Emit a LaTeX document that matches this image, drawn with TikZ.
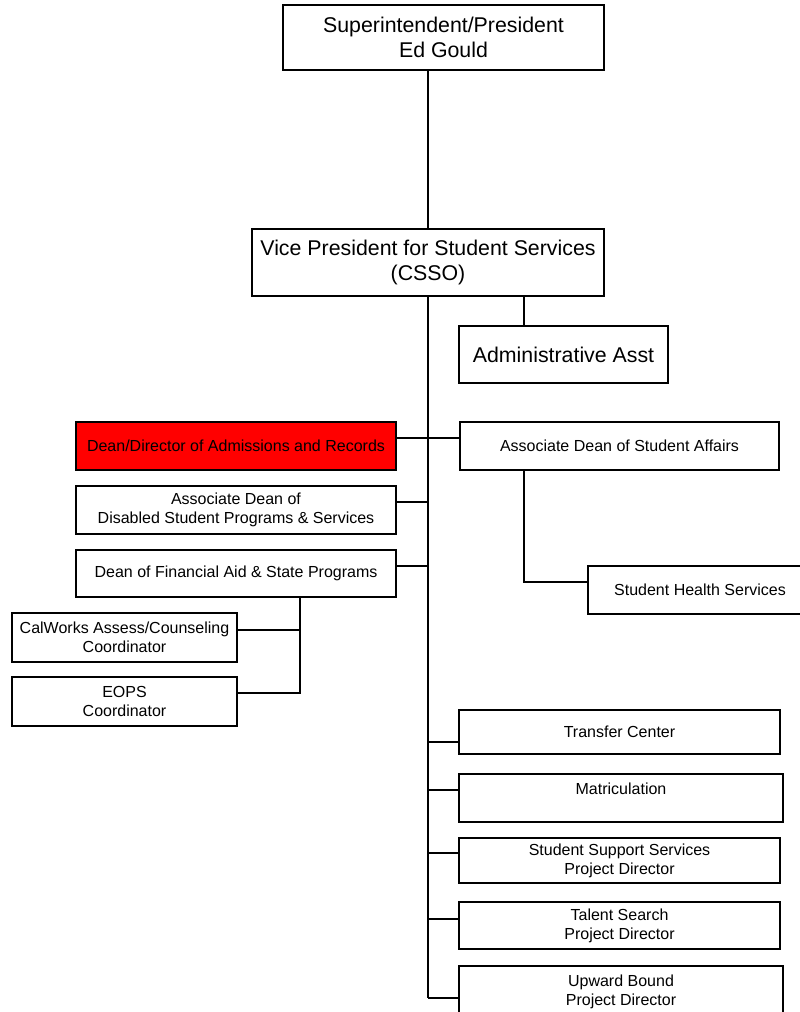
\documentclass[tikz,border=0pt]{standalone}
\usepackage{fontspec}
\setmainfont{Liberation Sans}
\begin{document}
\begin{tikzpicture}[x=0.75pt,y=-0.75pt,
    sz/.style 2 args={minimum width=#1*0.75pt,minimum height=#2*0.75pt},
    bigbox/.style={draw,line width=2pt,rectangle,align=center,inner sep=0pt,
      font=\fontsize{16}{18.5}\selectfont},
    smallbox/.style={draw,line width=2pt,rectangle,align=center,inner sep=0pt,
      font=\fontsize{12}{14.4}\selectfont},
    link/.style={line width=1.9pt}]
  \useasboundingbox (0,0) rectangle (799,1012);
  % boxes
  \node[bigbox,sz={321}{65}] (sup) at (443.5,37.5) {Superintendent/President\\Ed Gould};
  \node[bigbox,sz={352}{67}] (vp) at (428,262.5) {Vice President for Student Services\\(CSSO)};
  \node[bigbox,sz={209}{57}] (asst) at (563.5,354.5) {Administrative Asst};
  \node[smallbox,sz={320}{48},fill=red] (adm) at (236,446) {Dean/Director of Admissions and Records};
  \node[smallbox,sz={319}{48}] (asa) at (619.5,446) {Associate Dean of Student Affairs};
  \node[smallbox,sz={320}{48}] (dsps) at (236,510) {Associate Dean of\\Disabled Student Programs \& Services};
  \node[smallbox,sz={320}{47}] (finaid) at (236,573.5) {Dean of Financial Aid \& State Programs};
  \node[smallbox,sz={224}{48}] (health) at (700,590) {Student Health Services};
  \node[smallbox,sz={225}{49}] (calworks) at (124.5,637.5) {CalWorks Assess/Counseling\\Coordinator};
  \node[smallbox,sz={225}{49}] (eops) at (124.5,701.5) {EOPS\\Coordinator};
  \node[smallbox,sz={321}{44}] (transfer) at (619.5,732) {Transfer Center};
  \node[smallbox,sz={324}{48}] (matric) at (621,798) {Matriculation\\\mbox{}};
  \node[smallbox,sz={321}{45}] (sss) at (619.5,860.5) {Student Support Services\\Project Director};
  \node[smallbox,sz={321}{47}] (talent) at (619.5,925.5) {Talent Search\\Project Director};
  \node[smallbox,sz={324}{51}] (upward) at (621,991.5) {Upward Bound\\Project Director};
  % joints
  \coordinate (ja) at (524,296);
  \coordinate (b1) at (428,438);
  \coordinate (b2) at (428,502);
  \coordinate (b3) at (428,566);
  \coordinate (b4) at (428,742);
  \coordinate (b5) at (428,790);
  \coordinate (b6) at (428,853);
  \coordinate (b7) at (428,919);
  \coordinate (b8) at (428,998);
  \coordinate (f0) at (300,597);
  \coordinate (f1) at (300,630);
  \coordinate (f2) at (300,693);
  \coordinate (a0) at (524,470);
  \coordinate (a1) at (524,582);
  \begin{scope}[link]
    \draw (vp.north) to (vp.north |- sup.south);
    \draw (vp.south) to (b8);
    \draw (ja) to (ja |- asst.north);
    \draw (adm.east |- b1) to (asa.west |- b1);
    \draw (dsps.east |- b2) to (b2);
    \draw (finaid.east |- b3) to (b3);
    \draw (a0) -- (a1) -- (health.west |- a1);
    \draw (f0) -- (f2) -- (eops.east |- f2);
    \draw (calworks.east |- f1) to (f1);
    \draw (b4) to (transfer.west |- b4);
    \draw (b5) to (matric.west |- b5);
    \draw (b6) to (sss.west |- b6);
    \draw (b7) to (talent.west |- b7);
    \draw (b8) to (upward.west |- b8);
  \end{scope}
\end{tikzpicture}
\end{document}
